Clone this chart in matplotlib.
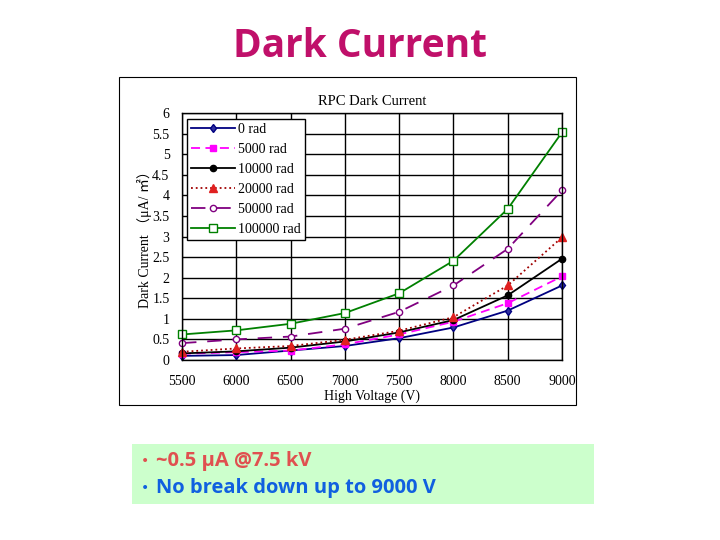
import numpy as np
import matplotlib.pyplot as plt
from matplotlib.patches import Rectangle

# high voltage (V) and dark current (uA/m2) per dose
voltage = [5500, 6000, 6500, 7000, 7500, 8000, 8500, 9000]
rad_0 = [0.10, 0.12, 0.23, 0.34, 0.53, 0.79, 1.20, 1.81]
rad_5000 = [0.15, 0.19, 0.23, 0.38, 0.62, 0.93, 1.38, 2.03]
rad_10000 = [0.16, 0.21, 0.30, 0.45, 0.67, 0.97, 1.57, 2.46]
rad_20000 = [0.20, 0.28, 0.34, 0.49, 0.71, 1.04, 1.81, 2.98]
rad_50000 = [0.41, 0.50, 0.57, 0.76, 1.17, 1.81, 2.70, 4.12]
rad_100000 = [0.62, 0.72, 0.88, 1.14, 1.62, 2.41, 3.67, 5.53]

labels = ["0 rad", "5000 rad", "10000 rad", "20000 rad", "50000 rad", "100000 rad"]
x_ticks = [5500, 6000, 6500, 7000, 7500, 8000, 8500, 9000]
y_ticks = [0, 0.5, 1, 1.5, 2, 2.5, 3, 3.5, 4, 4.5, 5, 5.5, 6]
y_tick_labels = ["0", "0.5", "1", "1.5", "2", "2.5", "3", "3.5", "4", "4.5", "5", "5.5", "6"]

serif = ["Liberation Serif", "Noto Sans CJK SC", "DejaVu Sans"]

fig = plt.figure(figsize=(7.2, 5.4), dpi=100)
fig.patch.set_facecolor("white")

# slide title
fig.text(0.5, 0.914, "Dark Current", ha="center", va="center",
         fontsize=28, fontweight="bold", color="#c0106a", family="Open Sans")

# chart frame
fig.patches.append(Rectangle((119 / 720, 1 - 405 / 540), 457 / 720, 328 / 540,
                             transform=fig.transFigure, facecolor="white",
                             edgecolor="black", linewidth=0.8, zorder=0))

ax = fig.add_axes([182 / 720, 1 - 360 / 540, 380 / 720, 247 / 540])
ax.set_zorder(3)
ax.set_facecolor("white")

styles = [
    dict(color="#000080", ls="-", marker="d", mfc="#3030a0", ms=4.5),
    dict(color="#ff00ff", ls=(0, (5, 3)), marker="s", mfc="#ff00ff", ms=4.5),
    dict(color="black", ls="-", marker="o", mfc="black", ms=4.5),
    dict(color="#a00000", ls=":", marker="^", mfc="#e02020", mec="#e02020", ms=5.5),
    dict(color="#800080", ls=(0, (8, 6)), marker="o", mfc="white", ms=4.5),
    dict(color="#008000", ls="-", marker="s", mfc="white", ms=5.5),
]
series = [rad_0, rad_5000, rad_10000, rad_20000, rad_50000, rad_100000]

for ys, lab, st in zip(series, labels, styles):
    ax.plot(voltage, ys, label=lab, lw=1.3, clip_on=False, **st)

ax.set_xlim(5500, 9000)
ax.set_ylim(0, 6)
ax.set_xticks(x_ticks)
ax.set_yticks(y_ticks)
ax.set_yticklabels(y_tick_labels)
ax.grid(True, color="black", lw=1)
ax.set_axisbelow(True)
ax.tick_params(length=0, labelsize=10)
ax.tick_params(axis="x", pad=11)
ax.tick_params(axis="y", pad=9)
for t in ax.get_xticklabels() + ax.get_yticklabels():
    t.set_family(serif)
for s in ax.spines.values():
    s.set_color("black")
    s.set_linewidth(1)

ax.set_title("RPC Dark Current", fontsize=10.5, family=serif, pad=6)
ax.set_xlabel("High Voltage (V)", fontsize=10, family=serif, labelpad=1)
ax.set_ylabel("Dark Current （μA/ ㎡）", fontsize=10, family=serif, labelpad=0)

leg = ax.legend(loc="upper left", bbox_to_anchor=(0.012, 0.975), fancybox=False,
                framealpha=1, edgecolor="black", borderpad=0.3, labelspacing=0.5,
                handlelength=3.2, handletextpad=0.2, borderaxespad=0,
                prop={"family": serif, "size": 10})
leg.get_frame().set_linewidth(1)

# note box
fig.patches.append(Rectangle((132 / 720, 1 - 504 / 540), 462 / 720, 60 / 540,
                             transform=fig.transFigure, facecolor="#ccffcc",
                             edgecolor="none", zorder=0))
fig.text(141 / 720, 1 - 461 / 540, "•", fontsize=10, color="#e05050", va="center")
fig.text(156 / 720, 1 - 461 / 540, "~0.5 μA @7.5 kV", fontsize=14.5, fontweight="bold",
         color="#e05050", va="center", family="Open Sans")
fig.text(141 / 720, 1 - 488 / 540, "•", fontsize=10, color="#1060e0", va="center")
fig.text(156 / 720, 1 - 488 / 540, "No break down up to 9000 V", fontsize=14.5,
         fontweight="bold", color="#1060e0", va="center", family="Open Sans")

fig.savefig("out.png", dpi=100)
